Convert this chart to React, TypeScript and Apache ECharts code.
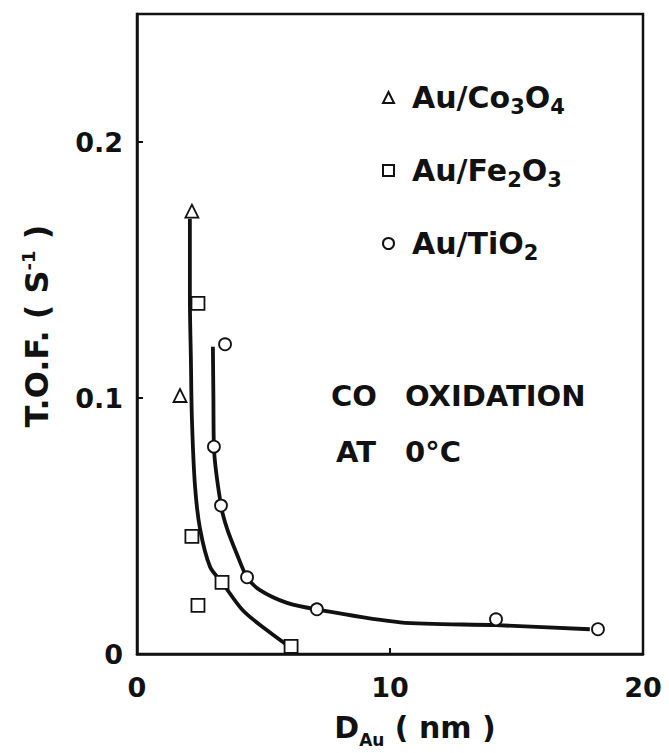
import React, { useEffect, useRef } from "react";
import * as echarts from "echarts";

// Measured turnover frequencies vs. gold particle diameter
const coX = [2.17, 1.7];
const coY = [0.173, 0.101];

const feX = [2.41, 2.17, 2.41, 3.36, 6.09];
const feY = [0.137, 0.046, 0.019, 0.028, 0.003];

const tiX = [3.48, 3.04, 3.32, 4.35, 7.11, 14.19, 18.22];
const tiY = [0.121, 0.081, 0.058, 0.03, 0.0175, 0.0136, 0.0097];

// Hand-drawn trend curves
const curveAX = [2.09, 2.09, 2.13, 2.17, 2.29, 2.49, 2.89, 3.36, 4.19, 5.14, 6.05];
const curveAY = [0.17, 0.139, 0.1155, 0.092, 0.066, 0.049, 0.034, 0.028, 0.017, 0.0093, 0.0027];

const curveBX = [3.0, 3.02, 3.04, 3.32, 3.56, 3.95, 4.35, 4.86, 5.93, 7.07, 10.4, 14.19, 17.9];
const curveBY = [0.12, 0.1, 0.081, 0.058, 0.049, 0.039, 0.03, 0.025, 0.02, 0.0175, 0.0124, 0.0113, 0.0097];

const legendLabels: Record<string, string> = {
  "Au/Co3O4": "Au/Co{sub|3}O{sub|4}",
  "Au/Fe2O3": "Au/Fe{sub|2}O{sub|3}",
  "Au/TiO2": "Au/TiO{sub|2}",
};

const FONT = "'DejaVu Sans', Verdana, sans-serif";
const INK = "#111";

const pairs = (xs: number[], ys: number[]) => xs.map((x, i) => [x, ys[i]]);

export default function App() {
  const ref = useRef<HTMLDivElement>(null);

  useEffect(() => {
    if (!ref.current) return;
    const chart = echarts.init(ref.current, null, { renderer: "svg" });

    const markerStyle = { color: "#fff", borderColor: INK, borderWidth: 1.8, opacity: 1 };
    const curveStyle = { color: INK, width: 3.8 };
    const bold = { fontWeight: "bold", fontFamily: FONT, color: INK };

    const annotation = (text: string, x: number, y: number, align: string) => ({
      type: "text",
      x,
      y,
      style: {
        text,
        align,
        verticalAlign: "middle",
        fontSize: 29,
        fontWeight: "bold",
        fontFamily: FONT,
        fill: INK,
      },
    });

    chart.setOption({
      animation: false,
      backgroundColor: "#fff",
      textStyle: { fontFamily: FONT },
      grid: {
        left: 137,
        right: 26,
        top: 14,
        bottom: 96,
        show: true,
        borderColor: INK,
        borderWidth: 2.5,
        backgroundColor: "transparent",
      },
      xAxis: {
        type: "value",
        min: 0,
        max: 20,
        interval: 10,
        splitLine: { show: false },
        axisLine: { onZero: false, lineStyle: { color: INK, width: 2.5 } },
        axisTick: { inside: true, length: 6, lineStyle: { color: INK, width: 2 } },
        axisLabel: { ...bold, margin: 20, fontSize: 27 },
        name: "D{sub|Au} ( nm )",
        nameLocation: "middle",
        nameGap: 55,
        nameTextStyle: {
          ...bold,
          fontSize: 30,
          lineHeight: 34,
          padding: [0, 0, 0, 50],
          rich: {
            sub: { ...bold, fontSize: 17, lineHeight: 17, padding: [25, 0, 0, 0] },
          },
        },
      },
      yAxis: {
        type: "value",
        min: 0,
        max: 0.25,
        interval: 0.1,
        splitLine: { show: false },
        axisLine: { onZero: false, lineStyle: { color: INK, width: 2.5 } },
        axisTick: { inside: true, length: 6, lineStyle: { color: INK, width: 2 } },
        axisLabel: { ...bold, margin: 14, fontSize: 27, showMaxLabel: false },
        name: "T.O.F. ( S{sup|-1} )",
        nameLocation: "middle",
        nameRotate: 90,
        nameGap: 82,
        nameTextStyle: {
          ...bold,
          fontSize: 32,
          lineHeight: 36,
          padding: [0, 0, 0, 16],
          rich: {
            sup: { ...bold, fontSize: 18, lineHeight: 18, padding: [0, 0, 17, 0] },
          },
        },
      },
      legend: {
        orient: "vertical",
        left: 377,
        top: 73,
        itemWidth: 11,
        itemHeight: 11,
        itemGap: 34,
        data: [
          { name: "Au/Co3O4", icon: "triangle" },
          { name: "Au/Fe2O3", icon: "rect" },
          { name: "Au/TiO2", icon: "circle" },
        ],
        formatter: (n: string) => legendLabels[n] || n,
        textStyle: {
          ...bold,
          fontSize: 30,
          lineHeight: 30,
          padding: [0, 0, 0, 13],
          rich: {
            sub: { ...bold, fontSize: 21, lineHeight: 20, padding: [18, 0, 0, 0] },
          },
        },
      },
      graphic: [
        annotation("CO", 377, 396, "right"),
        annotation("OXIDATION", 405, 396, "left"),
        annotation("AT", 376, 452, "right"),
        annotation("0°C", 405, 452, "left"),
      ],
      series: [
        {
          type: "line",
          name: "curveA",
          data: pairs(curveAX, curveAY),
          showSymbol: false,
          smooth: 0.3,
          lineStyle: curveStyle,
          z: 2,
        },
        {
          type: "line",
          name: "curveB",
          data: pairs(curveBX, curveBY),
          showSymbol: false,
          smooth: 0.3,
          lineStyle: curveStyle,
          z: 2,
        },
        {
          type: "scatter",
          name: "Au/Co3O4",
          symbol: "triangle",
          symbolSize: 13,
          data: pairs(coX, coY),
          itemStyle: markerStyle,
          z: 5,
        },
        {
          type: "scatter",
          name: "Au/Fe2O3",
          symbol: "rect",
          symbolSize: 13,
          data: pairs(feX, feY),
          itemStyle: markerStyle,
          z: 5,
        },
        {
          type: "scatter",
          name: "Au/TiO2",
          symbol: "circle",
          symbolSize: 12,
          data: pairs(tiX, tiY),
          itemStyle: markerStyle,
          z: 5,
        },
      ],
    });

    return () => chart.dispose();
  }, []);

  return (
    <div
      ref={ref}
      style={{ position: "fixed", left: 0, top: 0, width: 669, height: 753, background: "#fff" }}
    />
  );
}
